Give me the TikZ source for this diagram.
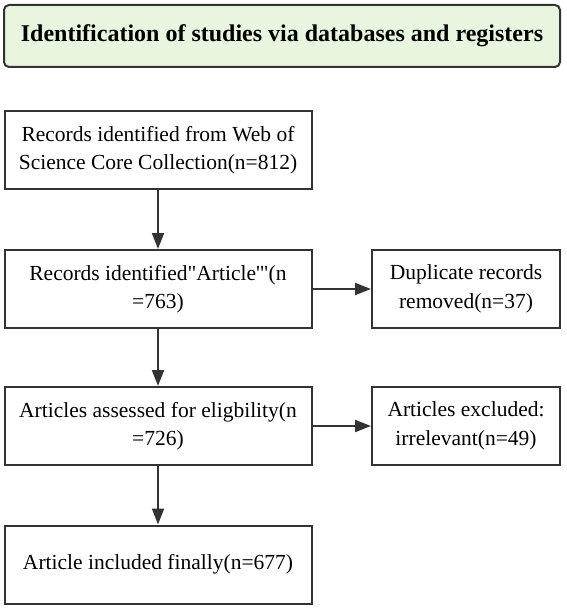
\documentclass[tikz,border=0pt]{standalone}
\usepackage{fontspec}
\setmainfont{Liberation Serif}[Ligatures=TeXOff]
\usetikzlibrary{arrows.meta}
\definecolor{headfill}{HTML}{E8F5DF}
\definecolor{linec}{HTML}{333333}
\begin{document}
\begin{tikzpicture}[x=1pt,y=-1pt,
  box/.style={draw=linec, line width=2pt, fill=white, align=center, inner sep=2pt,
    minimum height=78pt, font=\fontsize{21.5}{28.5}\selectfont},
  head/.style={draw=linec, line width=2pt, fill=headfill, rounded corners=5pt,
    align=center, font=\fontsize{24}{28}\selectfont\bfseries},
  arr/.style={draw=linec, line width=2pt, -{Triangle[length=16pt,width=12pt]}}]
\useasboundingbox (0,0) rectangle (567,610);
\node[head, minimum width=556pt, minimum height=62pt] (h) at (282,36) {Identification of studies via databases and registers};
\node[box, minimum width=307pt] (b1) at (158,150) {Records identified from Web of\\Science Core Collection(n=812)};
\node[box, minimum width=307pt] (b2) at (158,289) {Records identified"Article'"(n\\=763)};
\node[box, minimum width=188pt] (dup) at (466,289) {Duplicate records\\removed(n=37)};
\node[box, minimum width=307pt] (b3) at (158,426) {Articles assessed for eligbility(n\\=726)};
\node[box, minimum width=188pt] (exc) at (466,426) {Articles excluded:\\irrelevant(n=49)};
\node[box, minimum width=307pt] (b4) at (158,564.5) {Article included finally(n=677)};
\draw[arr] (b1.south) -- (b2.north);
\draw[arr] (b2.south) -- (b3.north);
\draw[arr] (b3.south) -- (b4.north);
\draw[arr] (b2.east) -- (dup.west);
\draw[arr] (b3.east) -- (exc.west);
\end{tikzpicture}
\end{document}
